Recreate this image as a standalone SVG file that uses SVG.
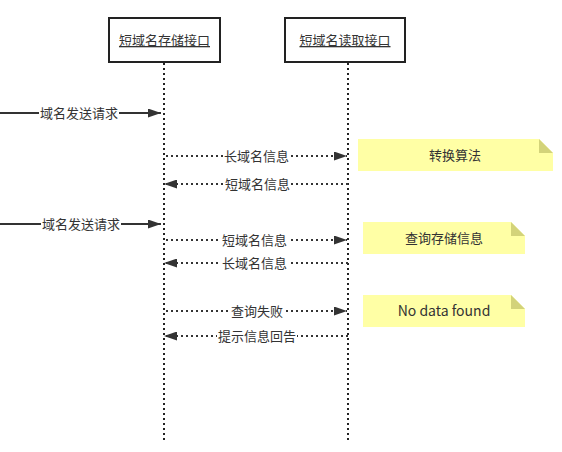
<svg xmlns="http://www.w3.org/2000/svg" width="562" height="452" viewBox="0 0 562 452">
<style>
text{font-family:"Noto Sans CJK SC","Noto Sans",sans-serif;fill:#333;}
.t{font-size:13px;text-decoration:underline;text-anchor:middle;}
.l{font-size:13px;text-anchor:middle;}
.n{font-size:13px;text-anchor:middle;}
.box{fill:#fff;stroke:#222;stroke-width:2;}
.life{stroke:#222;stroke-width:2;stroke-dasharray:2 3;fill:none;}
.solid{stroke:#333;stroke-width:2;fill:none;}
.dot{stroke:#333;stroke-width:2;stroke-dasharray:2 3;fill:none;}
.bg{fill:#fff;}
.note{fill:#ffffa5;}
.fold{fill:#d3d37a;}
</style>
<defs>
<marker id="ah" viewBox="0 0 13 9" refX="13" refY="4.5" markerWidth="13" markerHeight="9" markerUnits="userSpaceOnUse" orient="auto">
<path d="M0,0 L13,4.5 L0,9 Z" fill="#333"/>
</marker>
</defs>
<g id="lifelines">
<line class="life" x1="164" y1="63" x2="164" y2="442"/>
<line class="life" x1="348" y1="63" x2="348" y2="440"/>
</g>
<g id="store">
<rect class="box" x="109" y="18" width="111" height="44"/>
<text class="t" x="164.5" y="45">短域名存储接口</text>
</g>
<g id="read">
<rect class="box" x="285" y="18" width="120" height="44"/>
<text class="t" x="345" y="45">短域名读取接口</text>
</g>
<g id="connectors">
<line class="solid" x1="0" y1="113" x2="161" y2="113" marker-end="url(#ah)"/>
<rect class="bg" x="39" y="105" width="80" height="16"/>
<text class="l" x="79" y="118">域名发送请求</text>

<line class="dot" x1="166" y1="156" x2="347" y2="156" marker-end="url(#ah)"/>
<rect class="bg" x="223" y="148" width="67" height="16"/>
<text class="l" x="256.5" y="161">长域名信息</text>

<line class="dot" x1="348" y1="184" x2="164" y2="184" marker-end="url(#ah)"/>
<rect class="bg" x="224" y="176" width="67" height="16"/>
<text class="l" x="257.5" y="189">短域名信息</text>

<line class="solid" x1="0" y1="224" x2="161" y2="224" marker-end="url(#ah)"/>
<rect class="bg" x="41" y="216" width="80" height="16"/>
<text class="l" x="81" y="229">域名发送请求</text>

<line class="dot" x1="166" y1="240" x2="347" y2="240" marker-end="url(#ah)"/>
<rect class="bg" x="221" y="232" width="67" height="16"/>
<text class="l" x="254.5" y="245">短域名信息</text>

<line class="dot" x1="348" y1="263" x2="164" y2="263" marker-end="url(#ah)"/>
<rect class="bg" x="221" y="255" width="67" height="16"/>
<text class="l" x="254.5" y="268">长域名信息</text>

<line class="dot" x1="166" y1="311" x2="347" y2="311" marker-end="url(#ah)"/>
<rect class="bg" x="230" y="303" width="54" height="16"/>
<text class="l" x="257" y="316">查询失败</text>

<line class="dot" x1="348" y1="336" x2="164" y2="336" marker-end="url(#ah)"/>
<rect class="bg" x="217" y="328" width="80" height="16"/>
<text class="l" x="257" y="341">提示信息回告</text>
</g>
<g id="note1">
<path class="note" d="M358,139 H539 L553,153 V171 H358 Z"/>
<path class="fold" d="M539,139 L553,153 H539 Z"/>
<text class="n" x="455" y="160">转换算法</text>
</g>
<g id="note2">
<path class="note" d="M363,222 H511 L525,236 V254 H363 Z"/>
<path class="fold" d="M511,222 L525,236 H511 Z"/>
<text class="n" x="444" y="243">查询存储信息</text>
</g>
<g id="note3">
<path class="note" d="M363,295 H511 L525,309 V327 H363 Z"/>
<path class="fold" d="M511,295 L525,309 H511 Z"/>
<text class="n" x="444" y="316" style="font-size:14px">No data found</text>
</g>
</svg>
